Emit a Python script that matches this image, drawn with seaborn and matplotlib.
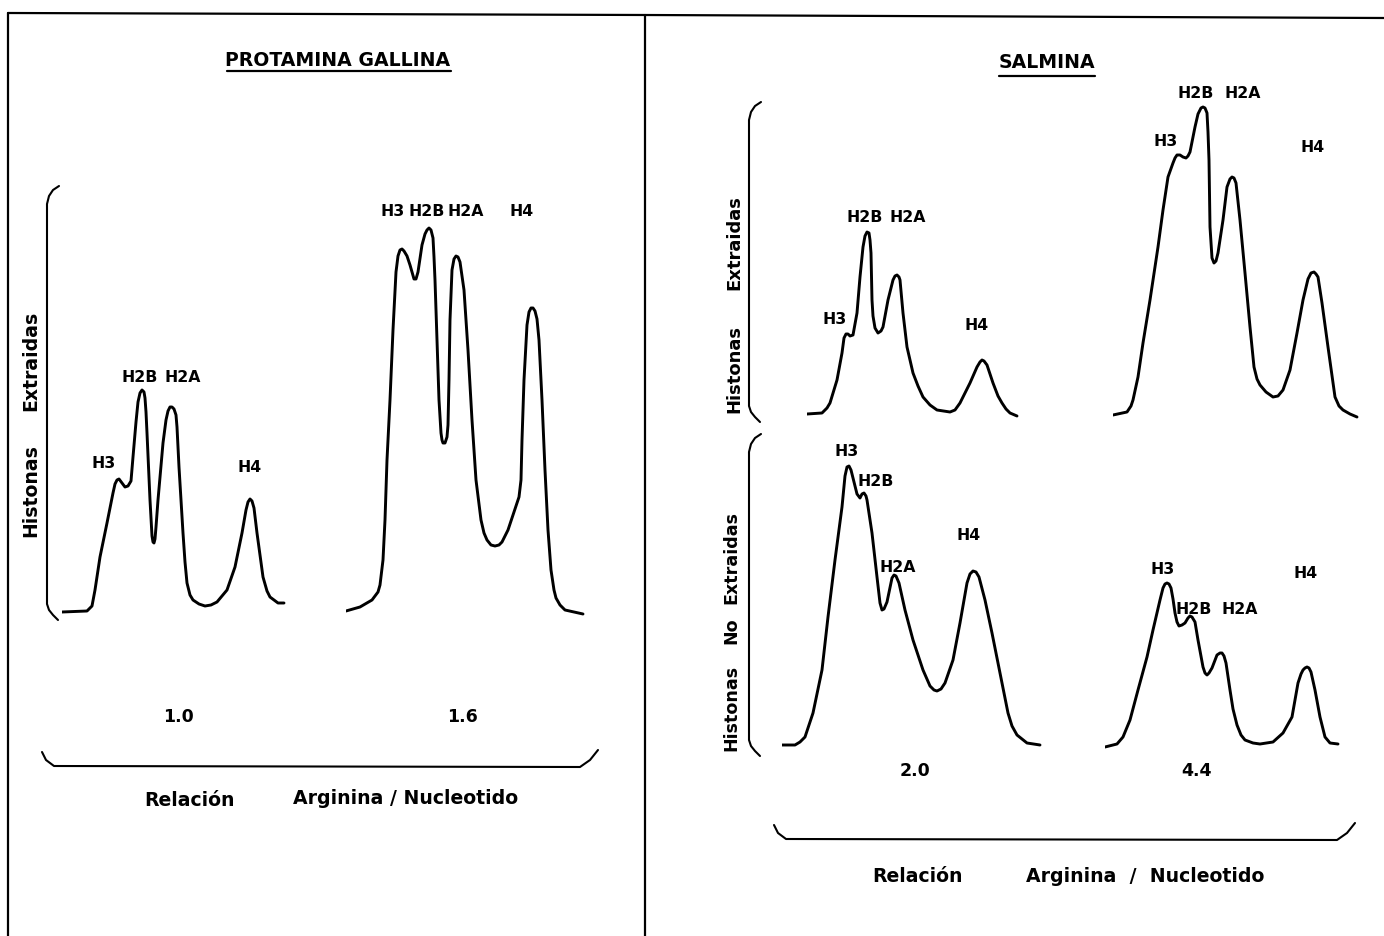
import matplotlib
matplotlib.use("Agg")
import matplotlib.pyplot as plt
import seaborn as sns
import pandas as pd

# ---------------- data: (elution position, absorbance) pairs, arbitrary units ----------------
trace_a = [(0,0),(25,1),(30,6),(33,22),(38,55),(45,89),(51,119),(53,128),(55,132),(57,133),(60,129),(63,125),
           (66,126),(69,131),(71,155),(74,190),(76,210),(78,219),(80,222),(82,220),(83,214),(84,200),(85,179),
           (88,112),(90,76),(91,70),(92,69),(93,73),(94,85),(96,112),(101,169),(104,192),(106,201),(108,205),
           (110,205),(112,203),(114,197),(115,185),(117,145),(121,79),(123,50),(125,29),(128,17),(131,12),
           (137,8),(143,6),(149,7),(155,10),(165,22),(173,45),(180,79),(184,102),(186,110),(188,113),(190,111),
           (192,104),(195,79),(201,35),(205,21),(208,15),(216,9),(222,9)]

trace_b = [(0,1),(14,5),(26,12),(32,20),(34,27),(37,52),(39,92),(41,152),(44,212),(47,282),(50,340),(52,356),
           (54,362),(56,363),(58,361),(61,356),(64,347),(68,333),(70,333),(72,340),(76,367),(79,378),(81,382),
           (83,384),(85,382),(87,374),(88,355),(89,332),(91,272),(93,212),(95,179),(96,172),(97,169),(99,169),
           (101,175),(102,187),(103,232),(104,292),(106,342),(108,353),(110,356),(112,355),(114,350),(118,322),
           (122,262),(126,192),(130,132),(135,92),(138,79),(141,72),(145,67),(149,66),(153,67),(156,70),(162,82),
           (167,97),(173,115),(175,132),(176,172),(178,232),(181,287),(183,300),(185,304),(187,304),(189,301),
           (191,293),(193,272),(196,212),(199,142),(202,82),(205,42),(208,22),(210,14),(214,7),(219,2),(228,0),
           (237,-2)]

trace_c = [(0,2),(15,3),(20,8),(23,13),(30,36),(35,63),(37,78),(39,82),(41,82),(43,80),(46,81),(50,103),(53,139),
           (56,169),(58,180),(60,184),(62,183),(63,176),(64,163),(65,116),(66,100),(68,88),(71,83),(74,85),(76,89),
           (81,116),(86,136),(88,140),(90,141),(92,139),(93,136),(96,103),(100,69),(106,43),(111,30),(116,19),
           (123,11),(130,6),(143,4),(148,6),(153,13),(163,33),(170,49),(173,54),(175,56),(177,55),(180,51),
           (186,33),(191,20),(195,13),(199,7),(203,3),(210,0)]

trace_d = [(0,2),(14,5),(18,11),(20,17),(25,40),(30,74),(37,117),(45,170),(50,207),(55,240),(60,254),(62,259),
           (64,262),(67,262),(70,260),(73,259),(75,261),(77,265),(82,290),(85,303),(88,309),(90,310),(92,309),
           (94,304),(95,285),(96,257),(97,190),(99,159),(101,154),(103,156),(105,164),(110,197),(114,230),
           (117,238),(119,240),(121,239),(123,234),(127,197),(132,144),(137,90),(141,50),(144,38),(147,32),
           (153,25),(160,20),(165,21),(170,27),(177,47),(184,84),(190,117),(195,138),(198,144),(201,145),
           (203,143),(205,140),(209,114),(215,70),(222,20),(226,11),(230,7),(237,3),(244,0)]

trace_e = [(0,1),(13,1),(18,4),(23,9),(31,33),(40,76),(46,129),(53,186),(60,239),(63,270),(65,279),(67,280),
           (69,276),(72,264),(75,252),(78,248),(80,252),(82,253),(84,250),(85,246),(90,213),(95,169),(98,143),
           (100,136),(102,137),(105,144),(110,168),(112,171),(114,170),(117,163),(123,136),(131,106),(141,76),
           (148,60),(152,56),(155,55),(159,57),(163,63),(171,86),(178,123),(185,163),(188,172),(191,175),
           (194,174),(197,169),(203,146),(210,113),(218,73),(226,33),(230,20),(235,11),(245,3),(258,1)]

trace_f = [(0,0),(12,3),(18,10),(25,27),(33,57),(42,90),(48,117),(55,147),(58,159),(60,163),(62,164),(64,163),
           (66,159),(68,148),(70,134),(72,125),(74,121),(77,122),(80,124),(83,129),(85,131),(87,130),(90,125),
           (93,107),(98,80),(100,74),(102,72),(104,74),(107,79),(112,92),(115,94),(117,94),(119,91),(121,84),
           (125,57),(128,38),(132,22),(136,12),(140,7),(148,4),(155,3),(168,5),(178,14),(187,30),(193,64),
           (196,73),(198,77),(200,79),(202,80),(204,79),(206,75),(210,57),(215,30),(220,10),(225,4),(233,3)]

peak_names = ["H3", "H2B", "H2A", "H4"]
# label anchor positions in each trace's units (x, y)
a_lab = [(42,149),(78,235),(121,235),(188,145)]
b_lab = [(47,400),(81,400),(120,400),(176,400)]
c_lab = [(28,96),(58,198),(101,198),(170,90)]
d_lab = [(53,275),(83,324),(130,324),(200,270)]
e_lab = [(65,294),(94,264),(116,179),(187,211)]
f_lab = [(58,177),(89,137),(135,137),(201,174)]

ratios_left = ["1.0", "1.6"]
ratios_right = ["2.0", "4.4"]
title_left = "PROTAMINA GALLINA"
title_right = "SALMINA"

# ---------------- figure ----------------
sns.set_theme(style="white")
plt.rcParams["font.family"] = ["DejaVu Sans"]
W, H = 1384, 936
fig = plt.figure(figsize=(W/100, H/100), dpi=100)
fig.patch.set_facecolor("white")

bg = fig.add_axes([0, 0, 1, 1])
bg.set_xlim(0, W); bg.set_ylim(H, 0); bg.axis("off")

ink = "black"
# frame lines
bg.plot([8, 645, 1384], [13, 15, 18], color=ink, lw=1.6)
bg.plot([8, 8], [13, 936], color=ink, lw=1.6)
bg.plot([645, 645], [15, 936], color=ink, lw=1.6)

# vertical braces
def vbrace(x, y0, y1):
    bg.plot([x+12, x+6, x+2, x, x, x+2, x+6, x+11],
            [y0, y0+4, y0+10, y0+18, y1-14, y1-8, y1-3, y1+2], color=ink, lw=1.5)
vbrace(47, 186, 618)
vbrace(749, 102, 420)
vbrace(749, 434, 754)

# horizontal braces
def hbrace(x0, x1, y):
    bg.plot([x0-8, x0-4, x0+4, x1-8, x1+2, x1+10],
            [y-14, y-6, y, y+1, y-6, y-16], color=ink, lw=1.5)
hbrace(50, 588, 766)
hbrace(782, 1345, 839)

bold = dict(fontweight="bold", color=ink, ha="center", va="center")
fs = 13.6
# titles
bg.text(338, 60, title_left, fontsize=fs, **bold)
bg.plot([227, 451], [71, 71], color=ink, lw=1.6)
bg.text(1047, 62, title_right, fontsize=fs, **bold)
bg.plot([999, 1095], [76, 76], color=ink, lw=1.6)

# y labels
for x, y, s, f in [(31, 491, "Histonas", fs), (31, 361, "Extraidas", fs),
                   (734, 369, "Histonas", 13.0), (734, 243, "Extraidas", 13.0),
                   (731, 708, "Histonas", 12.6), (731, 631, "No", 12.6), (731, 557, "Extraidas", 12.6)]:
    bg.text(x, y, s, rotation=90, fontsize=f, **bold)

# ratio labels
bg.text(178, 717, ratios_left[0], fontsize=12.5, **bold)
bg.text(462, 717, ratios_left[1], fontsize=12.5, **bold)
bg.text(915, 771, ratios_right[0], fontsize=12.5, **bold)
bg.text(1196, 771, ratios_right[1], fontsize=12.5, **bold)

# bottom axis titles
bg.text(190, 800, "Relación", fontsize=fs, **bold)
bg.text(406, 799, "Arginina / Nucleotido", fontsize=fs, **bold)
bg.text(918, 877, "Relación", fontsize=fs, **bold)
bg.text(1145, 877, "Arginina  /  Nucleotido", fontsize=fs, **bold)

# ---------------- traces ----------------
traces = [
    (trace_a, a_lab, 62, 612),
    (trace_b, b_lab, 346, 612),
    (trace_c, c_lab, 807, 416),
    (trace_d, d_lab, 1113, 417),
    (trace_e, e_lab, 782, 746),
    (trace_f, f_lab, 1105, 747),
]
aw, ah, pad = 280, 420, 10
for pts, labs, ox, oy in traces:
    ax = fig.add_axes([ox/W, (H-oy-pad)/H, aw/W, (ah+pad)/H])
    ax.patch.set_alpha(0)
    df = pd.DataFrame(pts, columns=["pos", "abs"])
    sns.lineplot(data=df, x="pos", y="abs", ax=ax, color=ink, lw=2.1,
                 sort=False, estimator=None,
                 solid_joinstyle="round", solid_capstyle="round")
    for name, (lx, ly) in zip(peak_names, labs):
        ax.text(lx, ly, name, fontsize=11.3, **bold)
    ax.set_xlim(0, aw); ax.set_ylim(-pad, ah)
    ax.axis("off")

fig.savefig("out.png", dpi=100)
